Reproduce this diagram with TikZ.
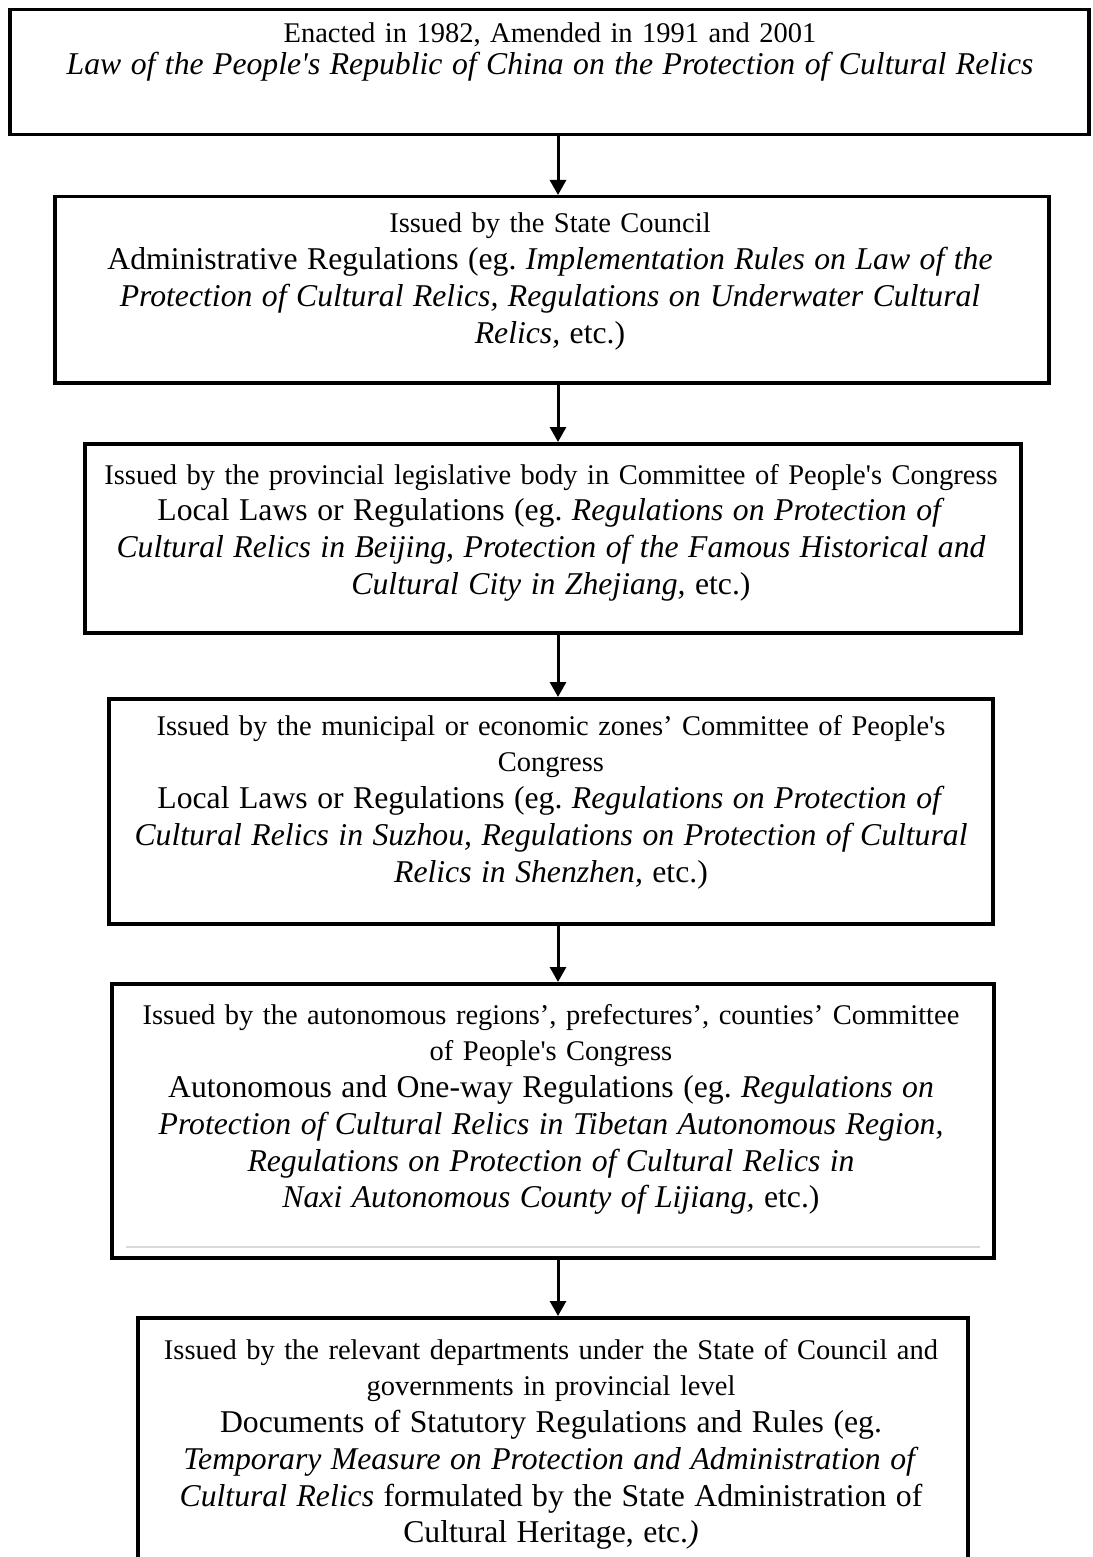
\documentclass[tikz,border=0pt]{standalone}
\usepackage{fontspec}
\setmainfont{Liberation Serif}
\usetikzlibrary{arrows.meta,positioning}
\newcommand{\apos}{\textquotesingle}
\newcommand{\bigline}{\fontsize{31.7}{36.7}\selectfont}
\tikzset{
  law diagram/.style={x=1pt, y=-1pt, line join=miter},
  law box/.style={draw=black, line width=3.5pt, fill=white, inner sep=0pt, anchor=north west},
  law text/.style={anchor=north, align=center, inner sep=0pt, text width=1070pt,
    font=\fontsize{28.5}{36.7}\selectfont},
  law arrow/.style={-{Triangle[length=15pt,width=16pt]}, line width=3pt},
  law rule/.style={draw=black!15, line width=2pt}
}
\begin{document}
\begin{tikzpicture}[law diagram]
\clip (0,0) rectangle (1092,1557);
\fill[white] (0,0) rectangle (1092,1557);
% boxes
\node[law box, minimum width=1079pt, minimum height=125pt] (b1) at (8,8) {};
\node[law box, minimum width=994pt, minimum height=186pt] (b2) at (53,195) {};
\node[law box, minimum width=936pt, minimum height=189pt] (b3) at (83,442) {};
\node[law box, minimum width=884pt, minimum height=225pt] (b4) at (107,697) {};
\node[law box, minimum width=882pt, minimum height=274pt] (b5) at (110,982) {};
\node[law box, minimum width=830pt, minimum height=300pt] (b6) at (136,1316) {};
\draw[law rule] ([xshift=16pt,yshift=13pt]b5.south west) -- ([xshift=-16pt,yshift=13pt]b5.south east);
% texts
\node[law text, font=\fontsize{28.5}{32}\selectfont] (t1) at (550,23) {Enacted in 1982, Amended in 1991 and 2001\\
{\bigline\itshape Law of the People\apos s Republic of China on the Protection of Cultural Relics}};
\node[law text] (t2) at (550,213) {Issued by the State Council\\
{\bigline Administrative Regulations (eg.\ \textit{Implementation Rules on Law of the}}\\
{\bigline\textit{Protection of Cultural Relics, Regulations on Underwater Cultural}}\\
{\bigline\textit{Relics,} etc.)}};
\node[law text] (t3) at (551,464) {Issued by the provincial legislative body in Committee of People\apos s Congress\\
{\bigline Local Laws or Regulations (eg.\ \textit{Regulations on Protection of}}\\
{\bigline\textit{Cultural Relics in Beijing, Protection of the Famous Historical and}}\\
{\bigline\textit{Cultural City in Zhejiang,} etc.)}};
\node[law text] (t4) at (551,715) {Issued by the municipal or economic zones’ Committee of People\apos s\\
Congress\\
{\bigline Local Laws or Regulations (eg.\ \textit{Regulations on Protection of}}\\
{\bigline\textit{Cultural Relics in Suzhou, Regulations on Protection of Cultural}}\\
{\bigline\textit{Relics in Shenzhen,} etc.)}};
\node[law text] (t5) at (551,1004) {Issued by the autonomous regions’, prefectures’, counties’ Committee\\
of People\apos s Congress\\
{\bigline Autonomous and One-way Regulations (eg.\ \textit{Regulations on}}\\
{\bigline\textit{Protection of Cultural Relics in Tibetan Autonomous Region,}}\\
{\bigline\textit{Regulations on Protection of Cultural Relics in}}\\
{\bigline\textit{Naxi Autonomous County of Lijiang,} etc.)}};
\node[law text] (t6) at (551,1339) {Issued by the relevant departments under the State of Council and\\
governments in provincial level\\
{\bigline Documents of Statutory Regulations and Rules (eg.}\\
{\bigline\textit{Temporary Measure on Protection and Administration of}}\\
{\bigline\textit{Cultural Relics} formulated by the State Administration of}\\
{\bigline Cultural Heritage, etc.\textit{)}}};
% arrows
\coordinate (ax) at (558,0);
\foreach \a/\b in {b1/b2,b2/b3,b3/b4,b4/b5,b5/b6}
  \draw[law arrow] (\a.south -| ax) -- (\b.north -| ax);
\end{tikzpicture}
\end{document}
